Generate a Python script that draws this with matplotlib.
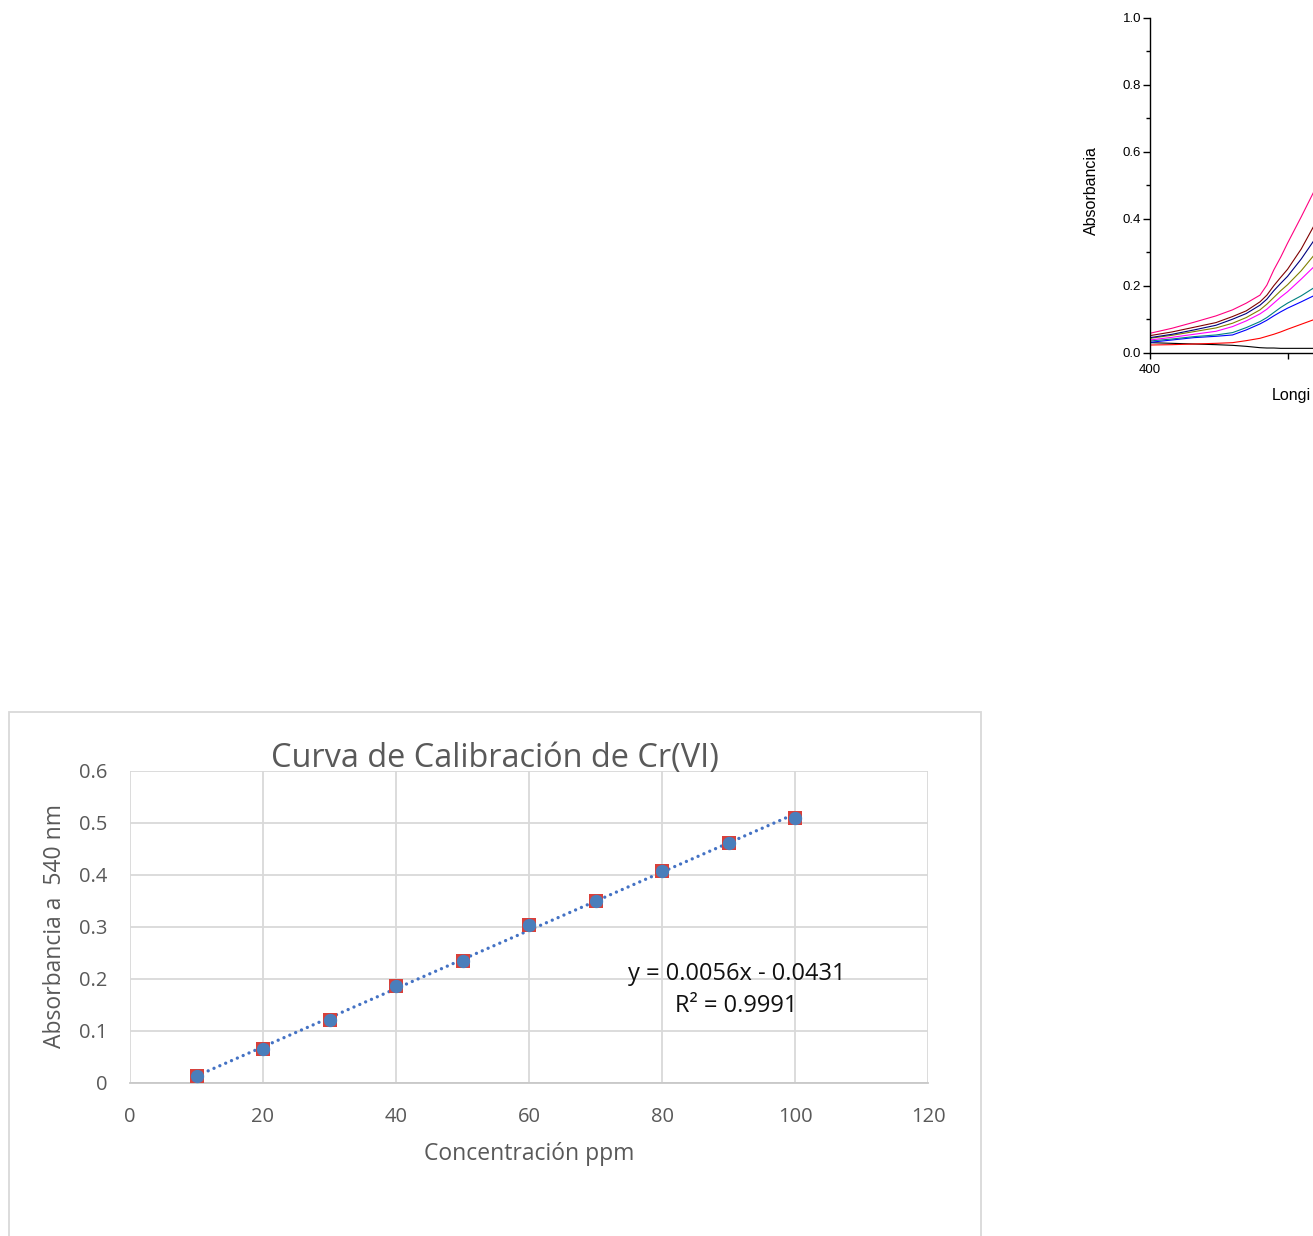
import numpy as np
import matplotlib
matplotlib.use("Agg")
import matplotlib.pyplot as plt
from matplotlib.patches import Rectangle

# ---------------- data ----------------
# Calibration curve
conc_ppm = [10, 20, 30, 40, 50, 60, 70, 80, 90, 100]
absorb_540 = [0.0135, 0.065, 0.121, 0.187, 0.235, 0.304, 0.350, 0.408, 0.462, 0.510]
calib_xticks = [0, 20, 40, 60, 80, 100, 120]
calib_yticks = [0, 0.1, 0.2, 0.3, 0.4, 0.5, 0.6]
calib_yticklabels = ["0", "0.1", "0.2", "0.3", "0.4", "0.5", "0.6"]
equation_text = "y = 0.0056x - 0.0431"
r2_text = "R² = 0.9991"

# Spectra (visible part only; the image is cropped at the right edge)
wavelength = [400, 408, 416, 424, 430, 435, 440, 442.5, 445, 447.5, 450, 455, 460]
spec_pink    = [0.058, 0.073, 0.091, 0.110, 0.128, 0.148, 0.172, 0.202, 0.247, 0.285, 0.327, 0.406, 0.488]
spec_wine    = [0.051, 0.062, 0.076, 0.090, 0.108, 0.125, 0.152, 0.172, 0.200, 0.225, 0.249, 0.310, 0.385]
spec_navy    = [0.045, 0.055, 0.068, 0.082, 0.100, 0.117, 0.142, 0.160, 0.185, 0.207, 0.228, 0.280, 0.340]
spec_olive   = [0.043, 0.052, 0.063, 0.074, 0.088, 0.105, 0.128, 0.145, 0.165, 0.185, 0.203, 0.245, 0.295]
spec_magenta = [0.038, 0.046, 0.055, 0.064, 0.078, 0.095, 0.116, 0.130, 0.148, 0.166, 0.182, 0.220, 0.260]
spec_teal    = [0.035, 0.041, 0.048, 0.053, 0.060, 0.075, 0.093, 0.105, 0.120, 0.135, 0.148, 0.170, 0.196]
spec_blue    = [0.031, 0.038, 0.045, 0.049, 0.053, 0.068, 0.086, 0.097, 0.110, 0.122, 0.133, 0.152, 0.172]
spec_red     = [0.023, 0.024, 0.026, 0.028, 0.030, 0.036, 0.043, 0.049, 0.055, 0.062, 0.070, 0.085, 0.100]
spec_black   = [0.030, 0.028, 0.026, 0.024, 0.022, 0.019, 0.015, 0.014, 0.014, 0.013, 0.013, 0.013, 0.013]
spectra = [spec_black, spec_red, spec_blue, spec_teal, spec_magenta,
           spec_olive, spec_navy, spec_wine, spec_pink]
spectra_colors = ["#000000", "#FF0000", "#0000FF", "#008080", "#FF00FF",
                  "#808000", "#000080", "#800000", "#FF0080"]
spec_yticks = [0.0, 0.2, 0.4, 0.6, 0.8, 1.0]
spec_xticks = [400]
spec_xminor = [450]

# ---------------- figure ----------------
W, H = 1313, 1236
DPI = 100
fig = plt.figure(figsize=(W / DPI, H / DPI), dpi=DPI)
fig.patch.set_facecolor("white")


def fx(px):
    return px / W


def fy(py):
    return 1 - py / H


# ===== Spectra chart (cropped at right edge) =====
sp_left, sp_bottom, sp_top = 1150, 352.7, 18
px_per_nm = 2.75
sp_xmax = 400 + (W - sp_left) / px_per_nm
sp_width_px = W - sp_left
ax2 = fig.add_axes([fx(sp_left), fy(sp_bottom), sp_width_px / W, (sp_bottom - sp_top) / H])
for y, c in zip(spectra, spectra_colors):
    ax2.plot(wavelength, y, color=c, lw=0.8)
ax2.set_xlim(400, sp_xmax)
ax2.set_ylim(0, 1.0)
ax2.spines["top"].set_visible(False)
ax2.spines["right"].set_visible(False)
for s in ("left", "bottom"):
    ax2.spines[s].set_linewidth(1.0)
ax2.set_yticks(spec_yticks)
ax2.set_yticklabels([f"{v:.1f}" for v in spec_yticks])
ax2.set_yticks(np.arange(0.1, 1.0, 0.2), minor=True)
ax2.set_xticks(spec_xticks)
ax2.set_xticks(spec_xminor, minor=True)
ax2.tick_params(axis="y", which="major", direction="out", length=5, width=1.0, pad=1.5, labelsize=9.5)
ax2.tick_params(axis="y", which="minor", direction="out", length=3, width=1.0)
ax2.tick_params(axis="x", which="major", direction="out", length=4.5, width=1.0, pad=3.5, labelsize=9.5)
ax2.tick_params(axis="x", which="minor", direction="out", length=4.5, width=1.0)
for lab in ax2.get_xticklabels() + ax2.get_yticklabels():
    lab.set_fontfamily("Liberation Sans")
ax2.text((1091 - sp_left) / sp_width_px, (sp_bottom - 191) / (sp_bottom - sp_top), "Absorbancia",
         transform=ax2.transAxes, rotation=90, ha="center", va="center",
         fontsize=11.5, family="Liberation Sans")
ax2.text((1272 - sp_left) / sp_width_px, -(395 - sp_bottom) / (sp_bottom - sp_top),
         "Longi", transform=ax2.transAxes, ha="left", va="center",
         fontsize=11.5, family="Liberation Sans")

# ===== Calibration chart =====
box = Rectangle((fx(9), fy(1250)), fx(981) - fx(9), fy(712) - fy(1250),
                transform=fig.transFigure, fill=False, edgecolor="#D9D9D9", lw=1.3)
fig.patches.append(box)

c_left, c_right, c_top, c_bottom = 130, 928, 771, 1083
ax = fig.add_axes([fx(c_left), fy(c_bottom), (c_right - c_left) / W, (c_bottom - c_top) / H])
ax.set_xlim(0, 120)
ax.set_ylim(0, 0.6)
ax.set_xticks(calib_xticks)
ax.set_yticks(calib_yticks)
ax.set_yticklabels(calib_yticklabels)
ax.grid(True, color="#D9D9D9", lw=1.3)
ax.set_axisbelow(True)
for s in ("top", "right", "left"):
    ax.spines[s].set_visible(False)
ax.spines["bottom"].set_color("#C8C8C8")
ax.spines["bottom"].set_linewidth(1.3)
ax.tick_params(length=0, labelsize=14.5, labelcolor="#595959", pad=16)
ax.tick_params(axis="x", pad=17)
for lab in ax.get_xticklabels() + ax.get_yticklabels():
    lab.set_fontfamily("Open Sans")

# trendline (linear fit of the data)
coef = np.polyfit(conc_ppm, absorb_540, 1)
xt = np.array([min(conc_ppm), max(conc_ppm)])
ax.plot(xt, np.polyval(coef, xt), color="#4472C4", lw=2.4, linestyle=(0, (0.01, 1.9)),
        dash_capstyle="round", zorder=3)
ax.plot(conc_ppm, absorb_540, linestyle="none", marker="s", ms=9.4, mfc="#D9403A",
        mew=0, zorder=4, clip_on=False)
ax.plot(conc_ppm, absorb_540, linestyle="none", marker="o", ms=9.6, mfc="#4A7EBB",
        mew=0, zorder=5, clip_on=False)

ax.text((736.5 - c_left) / (c_right - c_left), (c_bottom - 974) / (c_bottom - c_top), equation_text,
        transform=ax.transAxes, ha="center", va="center", fontsize=17, family="Open Sans",
        color="#111111")
ax.text((736 - c_left) / (c_right - c_left), (c_bottom - 1006) / (c_bottom - c_top), r2_text,
        transform=ax.transAxes, ha="center", va="center", fontsize=17, family="Open Sans",
        color="#111111")

ax.text(0.5, -(1154.5 - c_bottom) / (c_bottom - c_top), "Concentración ppm",
        transform=ax.transAxes, ha="center", va="center", fontsize=16.5, family="Open Sans",
        color="#595959")
ax.text((55 - c_left) / (c_right - c_left), (c_bottom - 926.5) / (c_bottom - c_top),
        "Absorbancia a  540 nm", transform=ax.transAxes, rotation=90, ha="center", va="center",
        fontsize=16.5, family="Open Sans", color="#595959")

fig.text(fx(495), fy(758), "Curva de Calibración de Cr(VI)", ha="center", va="center",
         fontsize=23.4, family="Open Sans", color="#595959")

fig.savefig("out.png", dpi=DPI, facecolor="white")
